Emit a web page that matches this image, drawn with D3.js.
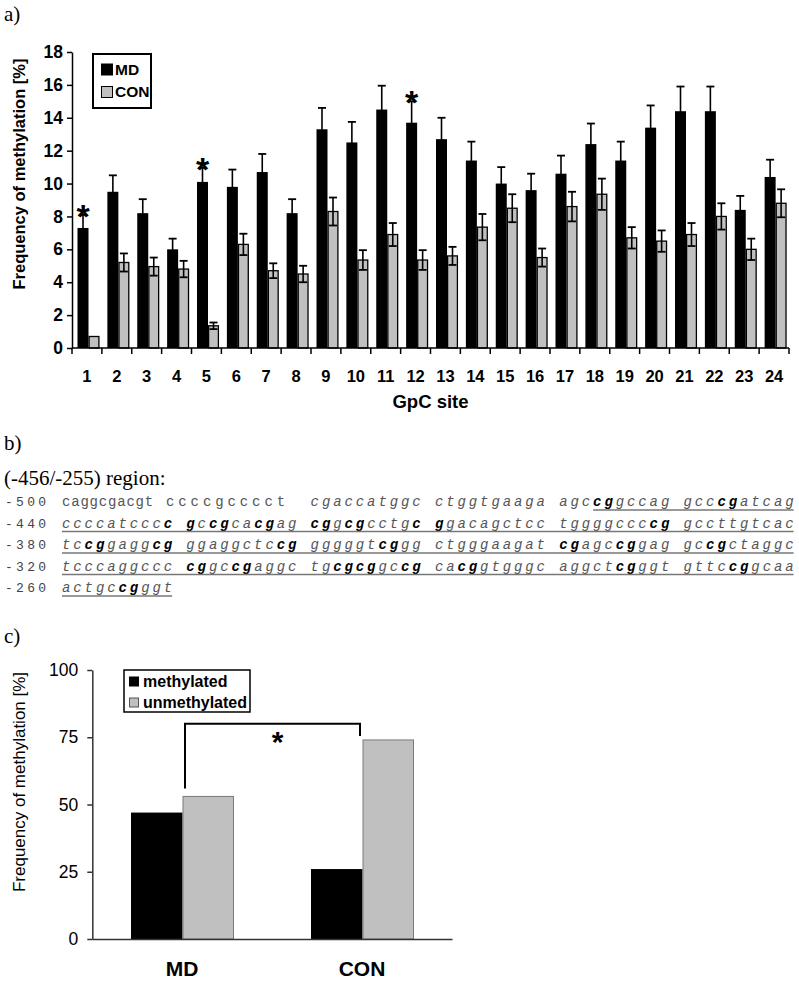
<!DOCTYPE html>
<html><head><meta charset="utf-8">
<script src="https://cdn.jsdelivr.net/npm/d3@7"></script>
<style>body{margin:0;background:#fff} svg{display:block}</style>
</head><body>
<svg id="c" width="799" height="982"></svg>
<script>
// ---------- DATA ----------
// Panel a
const sites = ["1","2","3","4","5","6","7","8","9","10","11","12","13","14","15","16","17","18","19","20","21","22","23","24"];
const seriesA = ["MD","CON"];
const mdValues = [7.3,9.5,8.2,6.0,10.1,9.8,10.7,8.2,13.3,12.5,14.5,13.7,12.7,11.4,10.0,9.6,10.6,12.4,11.4,13.4,14.4,14.4,8.4,10.4];
const mdErrors = [0.8,1.0,0.85,0.65,0.85,1.05,1.1,0.85,1.3,1.25,1.45,1.3,1.3,1.15,1.0,1.0,1.1,1.25,1.15,1.35,1.5,1.5,0.85,1.05];
const conValues = [0.7,5.2,4.95,4.8,1.35,6.3,4.7,4.5,8.3,5.35,6.9,5.35,5.6,7.35,8.5,5.5,8.6,9.35,6.7,6.5,6.9,8.0,6.0,8.8];
const conErrors = [0,0.55,0.55,0.5,0.2,0.65,0.45,0.5,0.85,0.6,0.7,0.6,0.55,0.8,0.85,0.55,0.9,0.95,0.65,0.65,0.7,0.8,0.65,0.85];
const sigSites = ["1","5","12"];
const yTicksA = [0,2,4,6,8,10,12,14,16,18];

// Panel b
const seqPositions = ["-500","-440","-380","-320","-260"];
// upper-case letters = bold (CpG)
const seqRows = [
  "caggcgacgt ccccgcccct cgaccatggc ctggtgaaga agcCGgccag gccCGatcag",
  "ccccatcccC GcCGcaCGag CGgCGcctgC Ggacagctcc tggggcccCG gccttgtcac",
  "tcCGgaggCG ggaggctcCG gggggtCGgg ctgggaagat CGagcCGgag gcCGctaggc",
  "tcccaggccc CGgcCGaggc tgCGCGgcCG caCGgtgggc aggctCGggt gttcCGgcaa",
  "actgcCGggt"
];

// Panel c
const groupsC = ["MD","CON"];
const seriesC = ["methylated","unmethylated"];
const methylatedC = [47,26];
const unmethylatedC = [53,74];
const yTicksC = [0,25,50,75,100];

// ---------- DRAW ----------
const sans = "'Liberation Sans', Arial, sans-serif";
const serif = "'Liberation Serif', 'Times New Roman', serif";
const mono = "'Liberation Mono', 'Courier New', monospace";
const svg = d3.select("#c");

// ===== Panel a =====
svg.append("text").attr("x",4).attr("y",21).attr("font-family",serif).attr("font-size",21).text("a)");

const xA = d3.scaleBand().domain(sites).range([72,789]);
const subA = d3.scaleBand().domain(seriesA).range([5.5,27.5]);
const yA = d3.scaleLinear().domain([0,18]).range([348,52]);
const gA = svg.append("g");

sites.forEach((s,i)=>{
  const bx = xA(s);
  const w = subA.bandwidth();
  gA.append("rect").attr("x",bx+subA("MD")).attr("y",yA(mdValues[i]))
    .attr("width",w).attr("height",yA(0)-yA(mdValues[i])).attr("fill","#000");
  gA.append("rect").attr("x",bx+subA("CON")+0.6).attr("y",yA(conValues[i]))
    .attr("width",w-1.2).attr("height",yA(0)-yA(conValues[i]))
    .attr("fill","#c0c0c0").attr("stroke","#000").attr("stroke-width",1.3);
  [["MD", mdValues[i], mdErrors[i]], ["CON", conValues[i], conErrors[i]]].forEach(([k,v,e])=>{
    if(e<=0) return;
    const cx = bx+subA(k)+w/2;
    gA.append("line").attr("x1",cx).attr("x2",cx).attr("y1",yA(v-e)).attr("y2",yA(v+e)).attr("stroke","#000").attr("stroke-width",1.6);
    [v+e, v-e].forEach(t=>{
      gA.append("line").attr("x1",cx-4).attr("x2",cx+4).attr("y1",yA(t)).attr("y2",yA(t)).attr("stroke","#000").attr("stroke-width",1.8);
    });
  });
});
sigSites.forEach(s=>{
  const i = sites.indexOf(s);
  const cx = xA(s)+subA("MD")+subA.bandwidth()/2;
  gA.append("text").attr("x",cx).attr("y",yA(mdValues[i]+mdErrors[i])+13)
    .attr("text-anchor","middle").attr("font-family",sans).attr("font-weight","bold")
    .attr("font-size",34).text("*");
});

const axA = svg.append("g").attr("transform","translate(72,0)")
  .call(d3.axisLeft(yA).tickValues(yTicksA).tickSize(5).tickSizeOuter(0).tickPadding(4));
axA.select(".domain").attr("stroke","#000").attr("stroke-width",1.5);
axA.selectAll(".tick line").attr("stroke","#000").attr("stroke-width",1.5);
axA.selectAll(".tick text").attr("font-family",sans).attr("font-weight","bold").attr("font-size",17.5).attr("fill","#000");

const axXA = svg.append("g").attr("transform","translate(0,348)")
  .call(d3.axisBottom(xA).tickSize(0).tickPadding(22));
axXA.select(".domain").attr("stroke","#000").attr("stroke-width",1.5).attr("d","M72,0H789");
axXA.selectAll(".tick text").attr("font-family",sans).attr("font-weight","bold").attr("font-size",16.5).attr("fill","#000");
sites.concat(["end"]).forEach(s=>{
  const x = s==="end" ? xA.range()[1] : xA(s);
  axXA.append("line").attr("x1",x).attr("x2",x).attr("y1",0).attr("y2",6).attr("stroke","#000").attr("stroke-width",1.5);
});

svg.append("text").attr("transform","translate(25,174) rotate(-90)").attr("text-anchor","middle")
  .attr("font-family",sans).attr("font-weight","bold").attr("font-size",16.5).text("Frequency of methylation [%]");
svg.append("text").attr("x",430.5).attr("y",408).attr("text-anchor","middle")
  .attr("font-family",sans).attr("font-weight","bold").attr("font-size",18.5).text("GpC site");

const legA = svg.append("g");
legA.append("rect").attr("x",93).attr("y",54).attr("width",58).attr("height",54).attr("fill","#fff").attr("stroke","#000").attr("stroke-width",2);
seriesA.forEach((k,j)=>{
  legA.append("rect").attr("x",101.5).attr("y",64+j*22.5).attr("width",11).attr("height",11)
    .attr("fill", k==="MD" ? "#000" : "#c0c0c0").attr("stroke","#000").attr("stroke-width",1);
  legA.append("text").attr("x",115).attr("y",74.5+j*22.5).attr("font-family",sans).attr("font-weight","bold")
    .attr("font-size",15.5).text(k);
});

// ===== Panel b =====
svg.append("text").attr("x",4).attr("y",450).attr("font-family",serif).attr("font-size",21).text("b)");
svg.append("text").attr("x",4).attr("y",485).attr("font-family",serif).attr("font-size",21).text("(-456/-255) region:");

const FS = 14, ADV = 11.3, GSTRIDE = 124.3, X0 = 62, ROW0 = 506, ROWH = 21.5;
// first row starts with two upright groups set with different spacing
const groupLayout = (r,g) => {
  if(r===0 && g===0) return {x:62, adv:9.2};
  if(r===0 && g===1) return {x:166, adv:12.3};
  return {x: X0 + g*GSTRIDE, adv: ADV};
};
const charX = (r,g,i) => { const L = groupLayout(r,g); return L.x + i*L.adv; };
const gB = svg.append("g");
seqRows.forEach((row,r)=>{
  const y = ROW0 + r*ROWH;
  gB.append("text").attr("x",5).attr("y",y).attr("font-family",mono).attr("font-size",13)
    .attr("letter-spacing",3.3).attr("fill","#444").text(seqPositions[r]);
  const groups = row.split(" ");
  groups.forEach((grp,g)=>{
    const L = groupLayout(r,g);
    const t = gB.append("text").attr("x",L.x).attr("y",y).attr("font-family",mono)
      .attr("font-size",FS).attr("letter-spacing",L.adv-0.6*FS)
      .attr("font-style",(r===0 && g<2) ? "normal" : "italic");
    grp.match(/[a-z]+|[A-Z]+/g).forEach(run=>{
      const bold = run===run.toUpperCase();
      t.append("tspan").attr("font-weight",bold?"bold":"normal").attr("fill",bold?"#000":"#555").text(run.toLowerCase());
    });
  });
  const nG = groups.length;
  const start = r===0 ? charX(r,4,3) : charX(r,0,0);
  const end = charX(r,nG-1,9)+0.6*FS;
  gB.append("line").attr("x1",start).attr("x2",end).attr("y1",y+4).attr("y2",y+4)
    .attr("stroke","#777").attr("stroke-width",1.5);
});

// ===== Panel c =====
svg.append("text").attr("x",4).attr("y",643).attr("font-family",serif).attr("font-size",21).text("c)");
const xC = d3.scaleBand().domain(groupsC).range([92,452]);
const subC = d3.scaleBand().domain(seriesC).range([-51,52]);
const yC = d3.scaleLinear().domain([0,100]).range([939,670]);
const gC = svg.append("g");
groupsC.forEach((grp,i)=>{
  const cx = xC(grp)+xC.bandwidth()/2;
  gC.append("rect").attr("x",cx+subC("methylated")).attr("y",yC(methylatedC[i]))
    .attr("width",subC.bandwidth()).attr("height",yC(0)-yC(methylatedC[i])).attr("fill","#000");
  gC.append("rect").attr("x",cx+subC("unmethylated")+0.5).attr("y",yC(unmethylatedC[i]))
    .attr("width",subC.bandwidth()-1).attr("height",yC(0)-yC(unmethylatedC[i]))
    .attr("fill","#c0c0c0").attr("stroke","#7a7a7a").attr("stroke-width",1);
});
const axC = svg.append("g").attr("transform","translate(92.3,0)")
  .call(d3.axisLeft(yC).tickValues(yTicksC).tickSize(5).tickSizeOuter(0).tickPadding(9));
axC.select(".domain").attr("stroke","#333").attr("stroke-width",1.5);
axC.selectAll(".tick line").attr("stroke","#333").attr("stroke-width",1.5);
axC.selectAll(".tick text").attr("font-family",sans).attr("font-size",17.5).attr("fill","#000");
const axXC = svg.append("g").attr("transform","translate(0,939)")
  .call(d3.axisBottom(xC).tickSize(0).tickPadding(22));
axXC.select(".domain").attr("stroke","#333").attr("stroke-width",1.5);
axXC.selectAll(".tick text").attr("font-family",sans).attr("font-weight","bold").attr("font-size",21).attr("fill","#000");

svg.append("text").attr("transform","translate(25,782) rotate(-90)").attr("text-anchor","middle")
  .attr("font-family",sans).attr("font-size",17).text("Frequency of methylation [%]");

const lx = xC("MD")+xC.bandwidth()/2+3, rx = xC("CON")+xC.bandwidth()/2-2;
gC.append("path").attr("d",`M${lx},${yC(unmethylatedC[0])-8}V${yC(80)}H${rx}V${yC(unmethylatedC[1])-4}`)
  .attr("fill","none").attr("stroke","#000").attr("stroke-width",2);
gC.append("text").attr("x",(lx+rx)/2+5).attr("y",yC(80)+28).attr("text-anchor","middle")
  .attr("font-family",sans).attr("font-weight","bold").attr("font-size",30).text("*");

const legC = svg.append("g");
legC.append("rect").attr("x",124).attr("y",670).attr("width",126).attr("height",42).attr("fill","#fff").attr("stroke","#000").attr("stroke-width",1.5);
seriesC.forEach((k,j)=>{
  legC.append("rect").attr("x",129.5).attr("y",677+j*21).attr("width",9).attr("height",9)
    .attr("fill", j===0 ? "#000" : "#c0c0c0").attr("stroke", j===0 ? "#000" : "#555").attr("stroke-width",1);
  legC.append("text").attr("x",143).attr("y",686.5+j*21).attr("font-family",sans).attr("font-weight","bold")
    .attr("font-size",16).text(k);
});
</script>
</body></html>
